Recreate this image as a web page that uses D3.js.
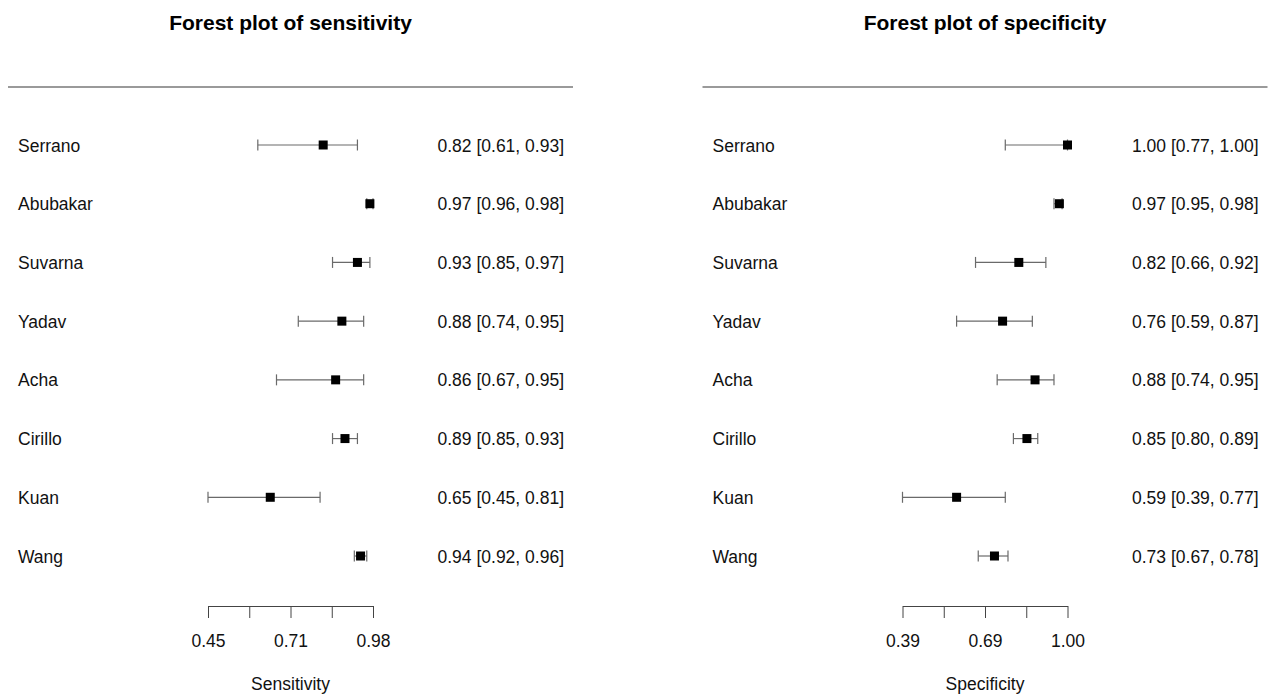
<!DOCTYPE html>
<html>
<head>
<meta charset="utf-8">
<script src="https://cdn.jsdelivr.net/npm/d3@7"></script>
<style>
  html, body { margin: 0; padding: 0; background: #fff; }
  svg { display: block; font-family: "Liberation Sans", Arial, Helvetica, sans-serif; }
</style>
</head>
<body>
<svg id="chart" width="1274" height="697"></svg>
<script>
// ---- Data ----
const studies = ["Serrano", "Abubakar", "Suvarna", "Yadav", "Acha", "Cirillo", "Kuan", "Wang"];

const sensEst   = [0.82, 0.97, 0.93, 0.88, 0.86, 0.89, 0.65, 0.94];
const sensLower = [0.61, 0.96, 0.85, 0.74, 0.67, 0.85, 0.45, 0.92];
const sensUpper = [0.93, 0.98, 0.97, 0.95, 0.95, 0.93, 0.81, 0.96];

const specEst   = [1.00, 0.97, 0.82, 0.76, 0.88, 0.85, 0.59, 0.73];
const specLower = [0.77, 0.95, 0.66, 0.59, 0.74, 0.80, 0.39, 0.67];
const specUpper = [1.00, 0.98, 0.92, 0.87, 0.95, 0.89, 0.77, 0.78];

const sensTicks = [0.45, 0.5825, 0.715, 0.8475, 0.98];
const sensTickLabels = ["0.45", "", "0.71", "", "0.98"];
const specTicks = [0.39, 0.5425, 0.695, 0.8475, 1.00];
const specTickLabels = ["0.39", "", "0.69", "", "1.00"];

const panels = [
  { title: "Forest plot of sensitivity", xlab: "Sensitivity",
    est: sensEst, lo: sensLower, hi: sensUpper,
    ticks: sensTicks, tickLabels: sensTickLabels, offset: 0 },
  { title: "Forest plot of specificity", xlab: "Specificity",
    est: specEst, lo: specLower, hi: specUpper,
    ticks: specTicks, tickLabels: specTickLabels, offset: 694.5 }
];

// ---- Drawing ----
const svg = d3.select("#chart");
const fontSize = 17.5;

const y = d3.scalePoint().domain(studies).range([145, 556]);

panels.forEach(p => {
  const g = svg.append("g").attr("transform", `translate(${p.offset},0)`);
  const x = d3.scaleLinear()
    .domain([p.ticks[0], p.ticks[p.ticks.length - 1]])
    .range([208, 373]);

  // title
  g.append("text")
    .attr("x", 290.5).attr("y", 29.5)
    .attr("text-anchor", "middle")
    .attr("font-size", 21).attr("font-weight", "bold")
    .attr("fill", "#000")
    .text(p.title);

  // top rule
  g.append("line")
    .attr("x1", 8).attr("x2", 573).attr("y1", 87).attr("y2", 87)
    .attr("stroke", "#9a9a9a").attr("stroke-width", 2);

  const rows = g.selectAll("g.row").data(studies).join("g").attr("class", "row");

  // study labels
  rows.append("text")
    .attr("x", 18).attr("y", d => y(d) + 6.5)
    .attr("font-size", fontSize).attr("fill", "#111")
    .text(d => d);

  // estimate labels
  rows.append("text")
    .attr("x", 564).attr("y", d => y(d) + 6.5)
    .attr("text-anchor", "end")
    .attr("font-size", fontSize).attr("fill", "#111")
    .text((d, i) => `${p.est[i].toFixed(2)} [${p.lo[i].toFixed(2)}, ${p.hi[i].toFixed(2)}]`);

  // CI lines
  rows.append("line")
    .attr("x1", (d, i) => x(p.lo[i])).attr("x2", (d, i) => x(p.hi[i]))
    .attr("y1", d => y(d)).attr("y2", d => y(d))
    .attr("stroke", "#6a6a6a").attr("stroke-width", 1.2);
  rows.append("line")
    .attr("x1", (d, i) => x(p.lo[i])).attr("x2", (d, i) => x(p.lo[i]))
    .attr("y1", d => y(d) - 5.5).attr("y2", d => y(d) + 5.5)
    .attr("stroke", "#6a6a6a").attr("stroke-width", 1.2);
  rows.append("line")
    .attr("x1", (d, i) => x(p.hi[i])).attr("x2", (d, i) => x(p.hi[i]))
    .attr("y1", d => y(d) - 5.5).attr("y2", d => y(d) + 5.5)
    .attr("stroke", "#6a6a6a").attr("stroke-width", 1.2);

  // point estimates
  rows.append("rect")
    .attr("x", (d, i) => x(p.est[i]) - 4.5)
    .attr("y", d => y(d) - 4.5)
    .attr("width", 9).attr("height", 9)
    .attr("fill", "#000");

  // axis
  const axis = d3.axisBottom(x)
    .tickValues(p.ticks)
    .tickFormat((d, i) => p.tickLabels[i])
    .tickSize(12)
    .tickSizeOuter(0)
    .tickPadding(17);
  const ag = g.append("g").attr("transform", "translate(0,606)").call(axis);
  ag.select(".domain").attr("stroke", "#444");
  ag.selectAll(".tick line").attr("stroke", "#444");
  ag.selectAll(".tick text")
    .attr("font-size", fontSize).attr("fill", "#111")
    .attr("font-family", "'Liberation Sans', Arial, Helvetica, sans-serif");

  // x label
  g.append("text")
    .attr("x", 290.5).attr("y", 690)
    .attr("text-anchor", "middle")
    .attr("font-size", fontSize).attr("fill", "#111")
    .text(p.xlab);
});
</script>
</body>
</html>
